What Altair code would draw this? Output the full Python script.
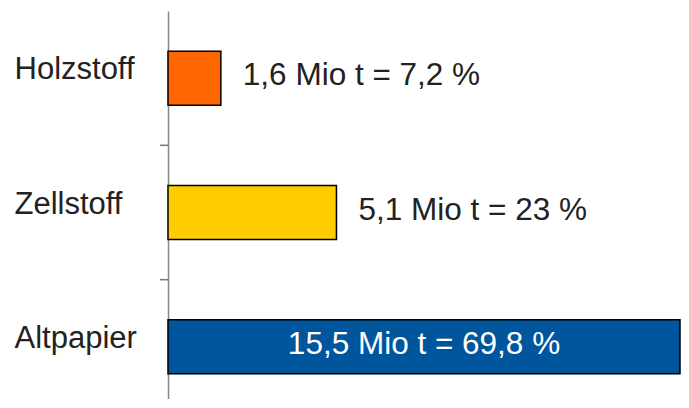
import altair as alt
import pandas as pd

categories = ["Holzstoff", "Zellstoff", "Altpapier"]
mio_t = [1.6, 5.1, 15.5]
value_labels = ["1,6 Mio t = 7,2 %", "5,1 Mio t = 23 %", "15,5 Mio t = 69,8 %"]
colors = ["#FF6600", "#FFCC00", "#00569C"]
label_inside = [False, False, True]
boundary_ticks = categories[1:]

df = pd.DataFrame({
    "cat": categories,
    "value": mio_t,
    "label": value_labels,
    "inside": label_inside,
})
ticks_df = pd.DataFrame({"cat": boundary_ticks})

FONT = "Liberation Sans"

y_scale = alt.Scale(domain=categories, paddingInner=0, paddingOuter=0)
y_enc = alt.Y(
    "cat:N",
    sort=categories,
    title=None,
    scale=y_scale,
    axis=alt.Axis(
        ticks=False,
        tickSize=0,
        domainColor="#888888",
        domainWidth=1.5,
        labelAlign="left",
        labelBaseline="middle",
        labelPadding=154,
        labelOffset=-8,
        labelFont=FONT,
        labelFontSize=31,
        labelColor="#222222",
        labelLimit=200,
        grid=False,
    ),
)
x_scale = alt.Scale(domain=[0, 15.5], nice=False, zero=True)

bars = alt.Chart(df).mark_bar(
    stroke="black", strokeWidth=1.5, height=alt.RelativeBandSize(0.402)
).encode(
    x=alt.X("value:Q", scale=x_scale, axis=None),
    y=y_enc,
    color=alt.Color("cat:N", scale=alt.Scale(domain=categories, range=colors), legend=None),
)

tick_rules = alt.Chart(ticks_df).mark_rule(color="#777777", strokeWidth=1.5).encode(
    y=alt.Y("cat:N", sort=categories, bandPosition=0),
    x=alt.value(-8),
    x2=alt.value(0),
)

outside = alt.Chart(df).transform_filter("!datum.inside").mark_text(
    align="left", baseline="middle", dx=22, dy=-2, font=FONT, fontSize=31.5, color="#222222"
).encode(
    x=alt.X("value:Q", scale=x_scale),
    y=alt.Y("cat:N", sort=categories),
    text="label:N",
)

inside = alt.Chart(df).transform_filter("datum.inside").transform_calculate(
    mid="datum.value / 2"
).mark_text(
    align="center", baseline="middle", dy=-2, font=FONT, fontSize=31.5, color="white"
).encode(
    x=alt.X("mid:Q", scale=x_scale),
    y=alt.Y("cat:N", sort=categories),
    text="label:N",
)

chart = alt.layer(bars, tick_rules, outside, inside).properties(
    width=512,
    height=403,
    autosize=alt.AutoSizeParams(type="none"),
    padding={"left": 160, "top": 3, "right": 1, "bottom": -15},
).configure_view(stroke=None)

chart.save("out.html", embed_options={"renderer": "svg", "actions": False})
